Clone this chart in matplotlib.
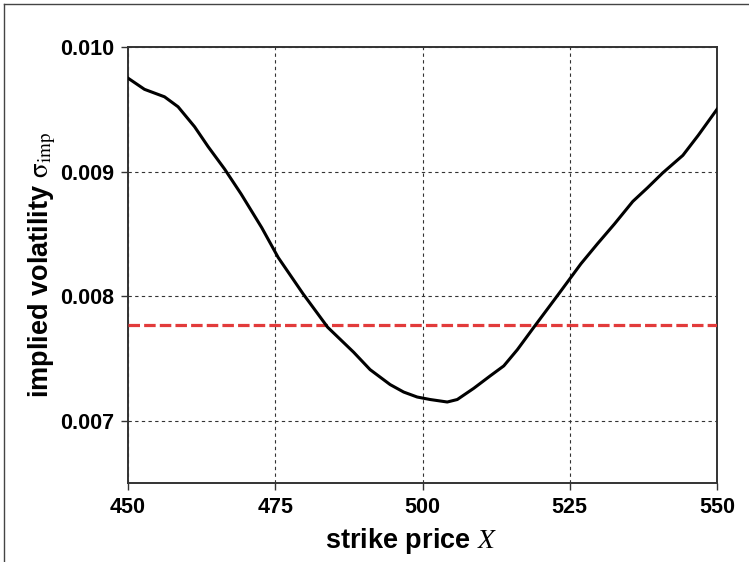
import matplotlib
matplotlib.use("Agg")
import matplotlib.pyplot as plt
from matplotlib.lines import Line2D

plt.rcParams["font.family"] = ["Liberation Sans", "DejaVu Sans"]
plt.rcParams["mathtext.fontset"] = "stix"

# strike price X
strike = [450, 452.8, 456.2, 458.5, 461.3, 463.6, 466.4, 469.2, 472.7, 475.5,
          479.7, 483.9, 488.3, 491.1, 494.5, 496.8, 499.1, 501.3, 504.2, 505.9,
          508.7, 511.5, 513.8, 516.1, 518.9, 523.0, 526.9, 529.7, 532.6, 535.7,
          538.2, 540.8, 544.2, 546.8, 550]
# implied volatility
sigma_imp = [0.00975, 0.00966, 0.00960, 0.00952, 0.00936, 0.00920, 0.00902, 0.00882,
             0.00855, 0.00831, 0.00802, 0.00775, 0.00755, 0.00741, 0.00729, 0.00723,
             0.00719, 0.00717, 0.00715, 0.00717, 0.00726, 0.00736, 0.00744, 0.00757,
             0.00775, 0.00801, 0.00826, 0.00842, 0.00858, 0.00876, 0.00887, 0.00899,
             0.00913, 0.00929, 0.00950]
# горизонтальный уровень
level = 0.007765

xticks = [450, 475, 500, 525, 550]
yticks = [0.007, 0.008, 0.009, 0.010]

fig = plt.figure(figsize=(7.49, 5.62), dpi=100)
ax = fig.add_axes([0.1709, 0.1406, 0.7864, 0.7758])

ax.grid(True, linestyle=(0, (3, 3)), color="#333333", linewidth=0.8)
ax.set_axisbelow(True)

ax.axhline(level, color="#e23b3b", linewidth=2.3, dashes=(3.6, 1.3), zorder=3)
ax.plot(strike, sigma_imp, color="black", linewidth=2.2, zorder=4)

ax.set_xlim(450, 550)
ax.set_ylim(0.0065, 0.010)
ax.set_xticks(xticks)
ax.set_yticks(yticks)
ax.set_yticklabels(["%.3f" % v for v in yticks])

for s in ax.spines.values():
    s.set_color("#333333")
    s.set_linewidth(1.4)

ax.tick_params(direction="out", length=5, width=1, color="#333333",
               labelsize=15.5, pad=5)
for lab in ax.get_xticklabels() + ax.get_yticklabels():
    lab.set_fontweight("bold")

ax.set_xlabel(r"strike price $X$", fontsize=19.5, fontweight="bold")
ax.set_ylabel(r"implied volatility $\mathrm{\sigma}_{\mathrm{imp}}$", fontsize=19.5,
              fontweight="bold")
ax.xaxis.set_label_coords(0.48, -0.098)
ax.yaxis.set_label_coords(-0.119, 0.5)

# рамка сверху и слева
fig.add_artist(Line2D([4 / 749, 1], [1 - 4 / 562, 1 - 4 / 562],
                      transform=fig.transFigure, color="#444444", linewidth=1))
fig.add_artist(Line2D([4 / 749, 4 / 749], [0, 1 - 4 / 562],
                      transform=fig.transFigure, color="#444444", linewidth=1))

fig.savefig("out.png", dpi=100)
